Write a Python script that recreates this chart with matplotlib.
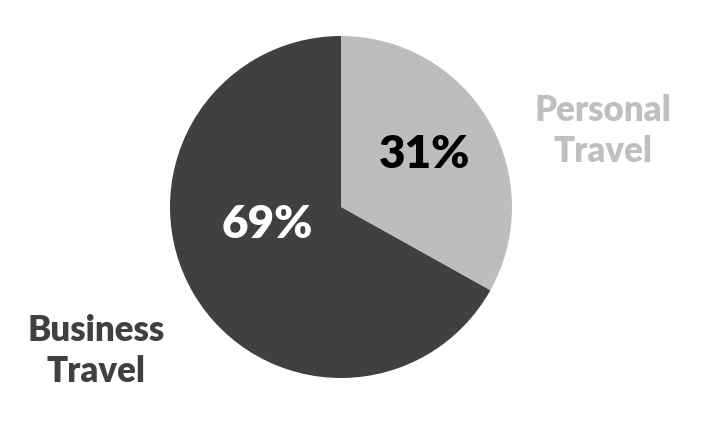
import matplotlib
matplotlib.use('Agg')
import matplotlib.pyplot as plt

# share of travel purpose (wedge sizes as drawn, printed labels as shown)
labels = ['Personal\nTravel', 'Business\nTravel']
values = [33.1, 66.9]
pct_labels = ['31%', '69%']
colors = ['#bdbdbd', '#404040']
label_colors = ['#bfbfbf', '#404040']
pct_colors = ['black', 'white']

plt.rcParams['font.family'] = ['Lato', 'DejaVu Sans']

fig = plt.figure(figsize = (7.04, 4.28), dpi = 100)
# pie centre ~ (341, 207) px, radius ~171 px
ax = fig.add_axes([(341 - 171) / 704.0, (428 - 207 - 171) / 428.0, 342 / 704.0, 342 / 428.0])

wedges, _ = ax.pie(values, colors = colors, startangle = 90, counterclock = False,
    radius = 1.0, wedgeprops = dict(linewidth = 0))
ax.set_xlim(-1, 1)
ax.set_ylim(-1, 1)
ax.axis('off')

# baseline positions in data units
pct_pos = [(0.49, 0.228), (-0.43, -0.181)]
label_pos = [(1.532, 0.263), (-1.433, -1.023)]

for i in range(len(values)):
    ax.text(pct_pos[i][0], pct_pos[i][1], pct_labels[i], ha = 'center', va = 'baseline',
        fontsize = 33, fontweight = 'heavy', color = pct_colors[i])
    ax.text(label_pos[i][0], label_pos[i][1], labels[i], ha = 'center', va = 'baseline',
        fontsize = 25, fontweight = 'heavy', color = label_colors[i], linespacing = 1.28,
        clip_on = False)

plt.savefig('out.png', dpi = 100)
